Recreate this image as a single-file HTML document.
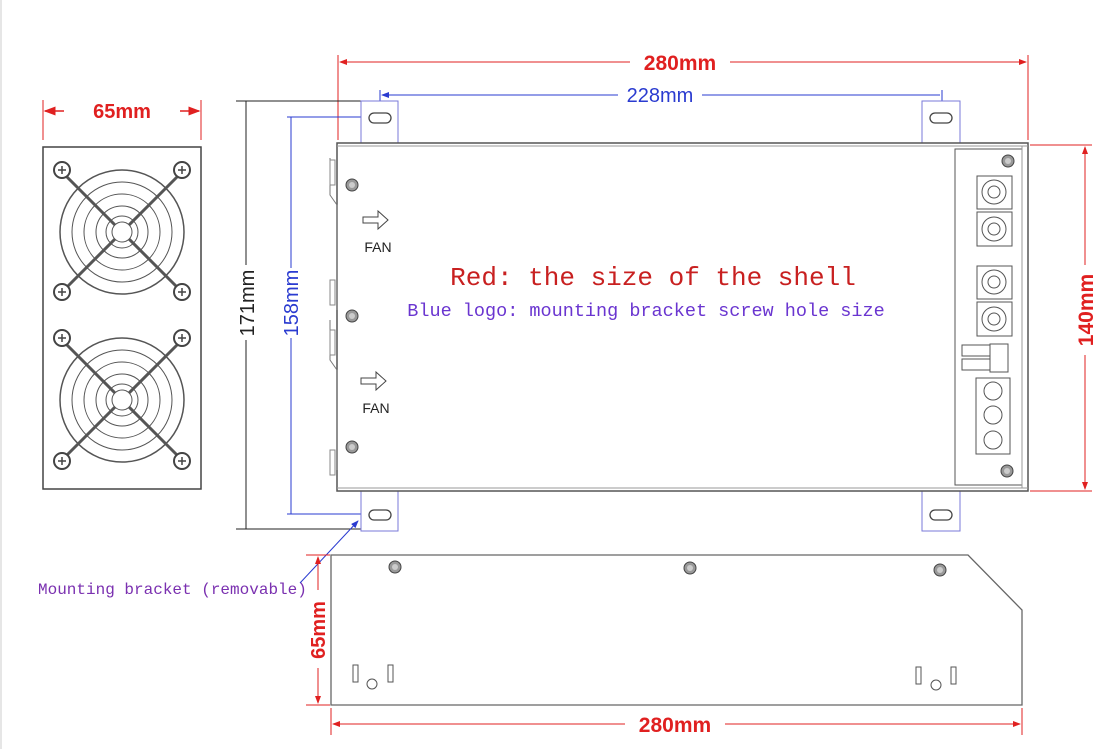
<!DOCTYPE html>
<html><head><style>body{margin:0;background:#fff}svg{display:block}</style></head><body>
<svg width="1106" height="749" viewBox="0 0 1106 749" xmlns="http://www.w3.org/2000/svg" font-family="Liberation Sans, sans-serif">
<line x1="1" y1="0" x2="1" y2="749" stroke="#ccc"/>
<defs>
<marker id="ar" markerWidth="8" markerHeight="6" refX="7" refY="3" orient="auto-start-reverse"><path d="M0,0L8,3L0,6z" fill="#e02020"/></marker>
<marker id="ab" markerWidth="8" markerHeight="6" refX="7" refY="3" orient="auto-start-reverse"><path d="M0,0L8,3L0,6z" fill="#2a3bd0"/></marker>
<g id="fan">
<circle r="62" fill="none" stroke="#555" stroke-width="1.5"/>
<circle r="50" fill="none" stroke="#555"/>
<circle r="38" fill="none" stroke="#555"/>
<circle r="26" fill="none" stroke="#555"/>
<circle r="16" fill="none" stroke="#555"/>
<line x1="-55" y1="-55" x2="55" y2="55" stroke="#555" stroke-width="3"/>
<line x1="55" y1="-55" x2="-55" y2="55" stroke="#555" stroke-width="3"/>
<circle r="10" fill="#fff" stroke="#555"/>
</g>
<g id="scr"><circle r="8" fill="#fff" stroke="#444" stroke-width="2"/><path d="M-4,0h8M0,-4v8" stroke="#444" stroke-width="1.5"/></g>
<g id="s2"><circle r="6" fill="#999" stroke="#444"/><circle r="3" fill="#ccc"/></g>
</defs>

<line x1="43" y1="100" x2="43" y2="140" stroke="#e02020"/>
<line x1="201" y1="100" x2="201" y2="140" stroke="#e02020"/>
<line x1="45" y1="111" x2="64" y2="111" stroke="#e02020" stroke-width="1.5" marker-start="url(#ar)"/>
<line x1="180" y1="111" x2="199" y2="111" stroke="#e02020" stroke-width="1.5" marker-end="url(#ar)"/>
<text x="122" y="118" text-anchor="middle" font-size="20" font-weight="bold" fill="#e02020">65mm</text>
<rect x="43" y="147" width="158" height="342" fill="#fff" stroke="#444" stroke-width="1.5"/>
<use href="#fan" x="122" y="232"/><use href="#fan" x="122" y="400"/>
<use href="#scr" x="62" y="170"/><use href="#scr" x="182" y="170"/><use href="#scr" x="62" y="292"/><use href="#scr" x="182" y="292"/>
<use href="#scr" x="62" y="338"/><use href="#scr" x="182" y="338"/><use href="#scr" x="62" y="461"/><use href="#scr" x="182" y="461"/>

<line x1="338" y1="55" x2="338" y2="140" stroke="#e02020"/>
<line x1="1028" y1="55" x2="1028" y2="140" stroke="#e02020"/>
<line x1="340" y1="62" x2="630" y2="62" stroke="#e02020" marker-start="url(#ar)"/>
<line x1="730" y1="62" x2="1026" y2="62" stroke="#e02020" marker-end="url(#ar)"/>
<text x="680" y="70" text-anchor="middle" font-size="21" font-weight="bold" fill="#e02020">280mm</text>
<line x1="380" y1="90" x2="380" y2="115" stroke="#2a3bd0"/>
<line x1="942" y1="90" x2="942" y2="115" stroke="#2a3bd0"/>
<line x1="382" y1="95" x2="618" y2="95" stroke="#2a3bd0" marker-start="url(#ab)"/>
<line x1="702" y1="95" x2="940" y2="95" stroke="#2a3bd0"/>
<text x="660" y="102" text-anchor="middle" font-size="20" fill="#2a3bd0">228mm</text>

<line x1="236" y1="101" x2="362" y2="101" stroke="#222"/>
<line x1="236" y1="529" x2="362" y2="529" stroke="#222"/>
<line x1="246" y1="101" x2="246" y2="265" stroke="#222"/>
<line x1="246" y1="340" x2="246" y2="529" stroke="#222"/>
<text transform="translate(254,303) rotate(-90)" text-anchor="middle" font-size="20" fill="#222">171mm</text>
<line x1="287" y1="117" x2="370" y2="117" stroke="#2a3bd0"/>
<line x1="287" y1="514" x2="370" y2="514" stroke="#2a3bd0"/>
<line x1="291" y1="117" x2="291" y2="268" stroke="#2a3bd0"/>
<line x1="291" y1="338" x2="291" y2="514" stroke="#2a3bd0"/>
<text transform="translate(298,303) rotate(-90)" text-anchor="middle" font-size="20" fill="#2a3bd0">158mm</text>

<g fill="#fff" stroke="#7a7ad8" stroke-width="1">
<rect x="361" y="101" width="37" height="42"/><rect x="922" y="101" width="38" height="42"/>
<rect x="361" y="491" width="37" height="40"/><rect x="922" y="491" width="38" height="40"/>
</g>
<g fill="none" stroke="#444" stroke-width="1.3">
<rect x="369" y="113" width="22" height="10" rx="5"/><rect x="930" y="113" width="22" height="10" rx="5"/>
<rect x="369" y="510" width="22" height="10" rx="5"/><rect x="930" y="510" width="22" height="10" rx="5"/>
</g>

<rect x="337" y="143" width="691" height="348" fill="#fff" stroke="#555" stroke-width="1.5"/>
<line x1="337" y1="146" x2="1028" y2="146" stroke="#999"/>
<line x1="337" y1="488" x2="1028" y2="488" stroke="#999"/>
<rect x="955" y="149" width="67" height="336" fill="#fff" stroke="#555"/>
<line x1="1022" y1="146" x2="1022" y2="488" stroke="#999"/>
<path d="M330,158 L330,195 L337,205 L337,310 M330,320 L330,360 L337,370 L337,470" stroke="#777" fill="none"/>
<rect x="330" y="160" width="5" height="25" fill="none" stroke="#888"/>
<rect x="330" y="280" width="5" height="25" fill="none" stroke="#888"/>
<rect x="330" y="330" width="5" height="25" fill="none" stroke="#888"/>
<rect x="330" y="450" width="5" height="25" fill="none" stroke="#888"/>
<use href="#s2" x="352" y="185"/><use href="#s2" x="352" y="316"/><use href="#s2" x="352" y="447"/>
<path d="M363,217h15v-6l10,9l-10,9v-6h-15z" fill="#fff" stroke="#444"/>
<text x="378" y="252" text-anchor="middle" font-size="14" fill="#222">FAN</text>
<path d="M361,378h15v-6l10,9l-10,9v-6h-15z" fill="#fff" stroke="#444"/>
<text x="376" y="413" text-anchor="middle" font-size="14" fill="#222">FAN</text>

<use href="#s2" x="1008" y="161"/><use href="#s2" x="1007" y="471"/>
<g fill="#fff" stroke="#555">
<rect x="977" y="176" width="35" height="33"/><rect x="977" y="212" width="35" height="34"/>
<rect x="977" y="266" width="35" height="33"/><rect x="977" y="302" width="35" height="34"/>
<circle cx="994" cy="192" r="12"/><circle cx="994" cy="229" r="12"/><circle cx="994" cy="282" r="12"/><circle cx="994" cy="319" r="12"/>
<circle cx="994" cy="192" r="6"/><circle cx="994" cy="229" r="6"/><circle cx="994" cy="282" r="6"/><circle cx="994" cy="319" r="6"/>
<rect x="962" y="345" width="30" height="11"/><rect x="962" y="359" width="30" height="11"/><rect x="990" y="344" width="18" height="28"/>
<rect x="976" y="378" width="34" height="76"/>
<circle cx="993" cy="391" r="9"/><circle cx="993" cy="415" r="9"/><circle cx="993" cy="440" r="9"/>
</g>

<line x1="1030" y1="145" x2="1092" y2="145" stroke="#e02020"/>
<line x1="1030" y1="491" x2="1092" y2="491" stroke="#e02020"/>
<line x1="1085" y1="147" x2="1085" y2="265" stroke="#e02020" marker-start="url(#ar)"/>
<line x1="1085" y1="355" x2="1085" y2="489" stroke="#e02020" marker-end="url(#ar)"/>
<text transform="translate(1093,310) rotate(-90)" text-anchor="middle" font-size="21" font-weight="bold" fill="#e02020">140mm</text>

<text x="653" y="285" text-anchor="middle" font-family="Liberation Mono, monospace" font-size="26" fill="#c82020">Red: the size of the shell</text>
<text x="646" y="316" text-anchor="middle" font-family="Liberation Mono, monospace" font-size="18.5" fill="#6a35d0">Blue logo: mounting bracket screw hole size</text>
<text x="38" y="594" font-family="Liberation Mono, monospace" font-size="16" fill="#7a30b0">Mounting bracket (removable)</text>
<line x1="300" y1="583" x2="358" y2="521" stroke="#2a3bd0" marker-end="url(#ab)"/>

<path d="M331,555 L968,555 L1022,610 L1022,705 L331,705 Z" fill="#fff" stroke="#666" stroke-width="1.3"/>
<use href="#s2" x="395" y="567"/><use href="#s2" x="690" y="568"/><use href="#s2" x="940" y="570"/>
<g fill="#fff" stroke="#555">
<rect x="353" y="665" width="5" height="17"/><rect x="388" y="665" width="5" height="17"/><circle cx="372" cy="684" r="5"/>
<rect x="916" y="667" width="5" height="17"/><rect x="951" y="667" width="5" height="17"/><circle cx="936" cy="685" r="5"/>
</g>
<line x1="306" y1="555" x2="330" y2="555" stroke="#e02020"/>
<line x1="306" y1="705" x2="330" y2="705" stroke="#e02020"/>
<line x1="318" y1="557" x2="318" y2="590" stroke="#e02020" marker-start="url(#ar)"/>
<line x1="318" y1="668" x2="318" y2="703" stroke="#e02020" marker-end="url(#ar)"/>
<text transform="translate(325,630) rotate(-90)" text-anchor="middle" font-size="20" font-weight="bold" fill="#e02020">65mm</text>
<line x1="331" y1="708" x2="331" y2="735" stroke="#e02020"/>
<line x1="1022" y1="708" x2="1022" y2="735" stroke="#e02020"/>
<line x1="333" y1="724" x2="625" y2="724" stroke="#e02020" marker-start="url(#ar)"/>
<line x1="725" y1="724" x2="1020" y2="724" stroke="#e02020" marker-end="url(#ar)"/>
<text x="675" y="732" text-anchor="middle" font-size="21" font-weight="bold" fill="#e02020">280mm</text>
</svg>
</body></html>
